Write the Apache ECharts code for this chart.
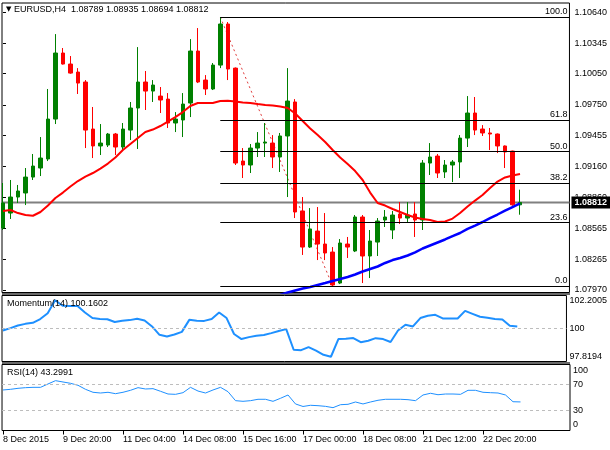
<!DOCTYPE html>
<html><head><meta charset="utf-8">
<script src="https://cdn.jsdelivr.net/npm/echarts@6/dist/echarts.min.js"></script>
<style>html,body{margin:0;padding:0;background:#fff}#c{width:610px;height:450px}</style>
</head><body><div id="c"></div>
<script>
// ---------- DATA ----------
const symbolName = 'EURUSD,H4';
const opens = [1.08566,1.08710,1.08864,1.08903,1.09056,1.09143,1.09230,1.09614,1.10249,1.10143,
1.10066,1.09970,1.09518,1.09355,1.09364,1.09470,1.09345,1.09508,1.09720,1.09970,
1.09883,1.09835,1.09806,1.09576,1.09605,1.09768,1.10268,1.09989,1.09903,1.10133,
1.10528,1.10104,1.09210,1.09172,1.09335,1.09383,1.09383,1.09249,1.09451,1.09778,
1.08730,1.08383,1.08537,1.08412,1.08335,1.08037,1.08412,1.08345,1.08672,1.08297,
1.08431,1.08643,1.08547,1.08701,1.08662,1.08701,1.08643,1.09191,1.09258,1.09105,
1.09172,1.09201,1.09431,1.09672,1.09518,1.09480,1.09470,1.09355,1.09306,1.08789];
const highs = [1.08999,1.09028,1.08980,1.09143,1.09278,1.09441,1.09903,1.10431,1.10297,1.10220,
1.10104,1.09989,1.09730,1.09566,1.09480,1.09480,1.09576,1.09778,1.10306,1.10076,
1.09989,1.09922,1.09864,1.09681,1.09864,1.10383,1.10489,1.10037,1.10153,1.10595,
1.10547,1.10110,1.09335,1.09374,1.09489,1.09576,1.09460,1.09480,1.10104,1.09806,
1.08864,1.08758,1.08768,1.08710,1.08383,1.08460,1.08480,1.08691,1.08691,1.08547,
1.08662,1.08739,1.08730,1.08816,1.08816,1.08816,1.09220,1.09383,1.09278,1.09220,
1.09220,1.09460,1.09835,1.09826,1.09556,1.09528,1.09475,1.09360,1.09310,1.08935];
const lows = [1.08547,1.08653,1.08807,1.08787,1.09028,1.09066,1.09210,1.09566,1.10138,1.10050,
1.09855,1.09335,1.09239,1.09268,1.09345,1.09268,1.09316,1.09412,1.09326,1.09701,
1.09778,1.09672,1.09528,1.09489,1.09441,1.09633,1.09960,1.09845,1.09893,1.10104,
1.09989,1.09172,1.09047,1.09095,1.09249,1.09249,1.09143,1.09105,1.08864,1.08662,
1.08307,1.08374,1.08258,1.08258,1.08008,1.08027,1.08278,1.08335,1.08037,1.08085,
1.08297,1.08576,1.08460,1.08605,1.08624,1.08480,1.08547,1.09076,1.09047,1.09047,
1.09008,1.09047,1.09345,1.09460,1.09451,1.09316,1.09287,1.09143,1.08780,1.08694];
const closes = [1.08807,1.08864,1.08922,1.09056,1.09162,1.09239,1.09614,1.10249,1.10143,1.10056,
1.09960,1.09508,1.09355,1.09383,1.09470,1.09345,1.09518,1.09720,1.09970,1.09883,
1.09941,1.09797,1.09576,1.09614,1.09758,1.10268,1.09970,1.09903,1.10133,1.10528,
1.10095,1.09191,1.09172,1.09335,1.09383,1.09393,1.09249,1.09451,1.09787,1.08720,
1.08383,1.08557,1.08412,1.08326,1.08018,1.08422,1.08383,1.08672,1.08297,1.08441,
1.08633,1.08672,1.08691,1.08662,1.08691,1.08643,1.09191,1.09249,1.09095,1.09172,
1.09201,1.09431,1.09672,1.09508,1.09480,1.09470,1.09355,1.09297,1.08789,1.08812];
const sma20 = [1.08730,1.08739,1.08710,1.08691,1.08684,1.08720,1.08782,1.08855,1.08907,1.08965,
1.09018,1.09061,1.09095,1.09138,1.09186,1.09244,1.09316,1.09374,1.09431,1.09489,
1.09513,1.09547,1.09590,1.09633,1.09681,1.09739,1.09768,1.09768,1.09768,1.09787,
1.09790,1.09782,1.09773,1.09768,1.09758,1.09749,1.09744,1.09734,1.09720,1.09667,
1.09595,1.09523,1.09460,1.09393,1.09316,1.09244,1.09181,1.09114,1.09028,1.08907,
1.08807,1.08782,1.08749,1.08720,1.08691,1.08667,1.08653,1.08643,1.08624,1.08629,
1.08657,1.08710,1.08773,1.08830,1.08883,1.08951,1.09013,1.09052,1.09071,1.09085];
const sma100Start = 35;
const sma100 = [1.07883,1.07903,1.07922,1.07946,1.07965,
1.07984,1.07999,1.08018,1.08037,1.08057,1.08076,1.08095,1.08119,1.08148,1.08172,
1.08196,1.08230,1.08258,1.08278,1.08302,1.08331,1.08369,1.08398,1.08427,1.08456,
1.08489,1.08518,1.08557,1.08590,1.08624,1.08662,1.08696,1.08734,1.08768,1.08802];
const momentum = [99.86,100.04,100.24,100.37,100.45,100.74,101.20,102.2005,101.77,101.76,
101.75,101.25,100.82,100.74,100.73,100.51,100.61,100.66,100.76,100.63,
100.17,99.52,99.39,99.54,99.75,100.68,100.61,100.60,100.74,101.25,
100.82,99.58,99.19,99.34,99.44,99.50,99.65,99.81,99.96,98.36,
98.33,98.57,98.30,97.97,97.8194,99.19,99.21,99.27,98.95,99.06,
99.26,99.19,98.96,99.86,100.30,100.17,100.82,101.00,101.07,100.79,
100.78,100.79,101.38,101.15,100.92,100.84,100.74,100.71,100.22,100.1602];
const rsi = [61.4,62.4,63.9,64.9,65.4,65.4,70.5,75.5,73.5,71.5,
68.5,62.4,57.9,56.8,57.9,55.8,57.9,60.9,64.9,62.9,
63.4,59.4,55.3,54.8,57.3,65.4,59.8,56.8,61.4,65.4,
58.8,45.2,44.2,45.2,47.3,47.3,44.2,48.8,53.8,40.2,
36.4,38.2,37.6,36.6,34.6,39.1,39.7,43.2,40.2,43.2,
45.8,47.3,47.3,47.3,46.7,45.2,53.8,56.4,54.2,55.3,
55.3,54.8,60.9,60.9,57.9,57.3,56.8,53.8,43.6,43.2991];
// Fibonacci retracement (from bar 29 high to bar 44 low)
const fibHighBar = 29, fibLowBar = 44;
const fibHigh = 1.10595, fibLow = 1.08008;
const fibLevels = [0, 23.6, 38.2, 50.0, 61.8, 100.0];
// Axis ticks / labels
const priceTicks = [1.07970,1.08265,1.08565,1.08860,1.09160,1.09455,1.09750,1.10050,1.10345,1.10640];
const momTicks = [97.8194, 100, 102.2005];
const momTickLabels = ['97.8194','100','102.2005'];
const rsiTicks = [0, 30, 70, 100];
const rsiLevels = [70, 30];
const dateTickBars = [0,8,16,24,32,40,48,56,64];
const dateLabels = ['8 Dec 2015','9 Dec 20:00','11 Dec 04:00','14 Dec 08:00','15 Dec 16:00','17 Dec 00:00','18 Dec 08:00','21 Dec 12:00','22 Dec 20:00'];

// ---------- CHART ----------
const FONT = 'Liberation Sans';
const xMin = -0.13, xMax = 75.6;
const yMin = 1.07946, yMax = 1.10730;
const last = closes.length - 1;
const bars = closes.map((_, i) => i);
const candleData = bars.map(i => [i, opens[i], closes[i], lows[i], highs[i]]);

const chart = echarts.init(document.getElementById('c'));
const txt = {fontSize: 9, color: '#000', fontFamily: FONT};
const xBase = {type: 'value', min: xMin, max: xMax, axisLine: {show: false}, axisTick: {show: false}, axisLabel: {show: false}, splitLine: {show: false}};
const gridBase = {left: 2, right: 40, show: true, borderColor: '#000', borderWidth: 1, backgroundColor: '#fff'};

chart.setOption({
  animation: false,
  backgroundColor: '#fff',
  textStyle: {fontFamily: FONT},
  title: [
    {text: '{t|▼} ' + symbolName + '  ' + [opens[last], highs[last], lows[last], closes[last]].map(v => v.toFixed(5)).join(' '),
     left: 6, top: 5, padding: 0,
     textStyle: Object.assign({fontWeight: 'normal', rich: {t: {fontSize: 7, fontFamily: 'DejaVu Sans', color: '#000'}}}, txt)},
    {text: 'Momentum(14) ' + momentum[last].toFixed(4), left: 7, top: 299.5, padding: 0, textStyle: Object.assign({fontWeight: 'normal'}, txt)},
    {text: 'RSI(14) ' + rsi[last].toFixed(4), left: 7, top: 368.5, padding: 0, textStyle: Object.assign({fontWeight: 'normal'}, txt)}
  ],
  grid: [
    Object.assign({top: 3, height: 289.5}, gridBase),
    Object.assign({top: 295.5, height: 66}, gridBase),
    Object.assign({top: 364.5, height: 66}, gridBase)
  ],
  graphic: [
    {type: 'rect', shape: {x: 2, y: 293, width: 568, height: 2}, style: {fill: '#6a6a6a'}, silent: true},
    {type: 'rect', shape: {x: 2, y: 362, width: 568, height: 2}, style: {fill: '#6a6a6a'}, silent: true}
  ],
  xAxis: [
    Object.assign({gridIndex: 0}, xBase),
    Object.assign({gridIndex: 1}, xBase),
    Object.assign({}, xBase, {gridIndex: 2,
      axisTick: {show: true, customValues: dateTickBars, length: 4, lineStyle: {color: '#000'}},
      axisLabel: Object.assign({show: true, customValues: dateTickBars, align: 'left', margin: 5,
        formatter: v => dateLabels[dateTickBars.indexOf(Math.round(v))]}, txt)})
  ],
  yAxis: [
    {type: 'value', gridIndex: 0, position: 'right', min: yMin, max: yMax, splitLine: {show: false}, axisLine: {show: false},
     axisTick: {show: true, customValues: priceTicks, length: 3, lineStyle: {color: '#000'}},
     axisLabel: Object.assign({customValues: priceTicks, margin: 5, formatter: v => v.toFixed(5)}, txt)},
    {type: 'value', gridIndex: 1, position: 'right', min: 97.45, max: 102.57, splitLine: {show: false}, axisLine: {show: false},
     axisTick: {show: false},
     axisLabel: Object.assign({customValues: momTicks, margin: 3, formatter: v => {
       let k = 0; momTicks.forEach((t, j) => { if (Math.abs(t - v) < Math.abs(momTicks[k] - v)) k = j; }); return momTickLabels[k]; }}, txt)},
    {type: 'value', gridIndex: 2, position: 'right', min: 0, max: 100, splitLine: {show: false}, axisLine: {show: false},
     axisTick: {show: false},
     axisLabel: Object.assign({customValues: rsiTicks, margin: 3,
       formatter: v => v >= 100 ? '{top|' + v + '}' : (v <= 0 ? '{bot|' + v + '}' : String(v)),
       rich: {top: {padding: [12, 0, 0, 0], fontSize: 9, fontFamily: FONT, color: '#000'},
              bot: {padding: [0, 0, 12, 0], fontSize: 9, fontFamily: FONT, color: '#000'}}}, txt)}
  ],
  series: [
    {type: 'line', xAxisIndex: 0, yAxisIndex: 0, data: [[xMin, closes[last]], [xMax, closes[last]]], symbol: 'none', silent: true,
     z: 1, lineStyle: {color: '#808080', width: 2},
     endLabel: {show: true, distance: 2, formatter: closes[last].toFixed(5),
       backgroundColor: '#000', color: '#fff', fontWeight: 'bold', fontSize: 9, fontFamily: FONT, padding: [2, 4, 1, 3]}},
    {type: 'candlestick', xAxisIndex: 0, yAxisIndex: 0, data: candleData, barWidth: 4, z: 3,
     itemStyle: {color: '#008000', color0: '#ff0000', borderColor: '#008000', borderColor0: '#ff0000', borderWidth: 1}},
    {type: 'line', xAxisIndex: 0, yAxisIndex: 0, data: bars.map(i => [i, sma20[i]]), symbol: 'none', silent: true, z: 4,
     lineStyle: {color: '#ff0000', width: 2}},
    {type: 'line', xAxisIndex: 0, yAxisIndex: 0, data: sma100.map((v, j) => [sma100Start + j, v]), symbol: 'none', silent: true, z: 4,
     lineStyle: {color: '#0000ff', width: 2.5}},
    {type: 'line', xAxisIndex: 0, yAxisIndex: 0, data: [[fibHighBar, fibHigh], [fibLowBar, fibLow]], symbol: 'none', silent: true, z: 2,
     lineStyle: {color: '#e03c3c', width: 1, type: [2, 3]},
     markLine: {silent: true, symbol: ['none', 'none'], animation: false,
       lineStyle: {color: '#000', width: 1, type: 'solid'},
       label: {show: true, position: 'insideEndTop', distance: [2, 1], formatter: p => p.name,
         color: '#000', fontSize: 9, fontFamily: FONT},
       data: fibLevels.map(p => {
         const v = fibLow + (fibHigh - fibLow) * p / 100;
         return [{name: p.toFixed(1), coord: [fibHighBar, v]}, {name: p.toFixed(1), coord: [xMax, v]}];
       })}},
    {type: 'line', xAxisIndex: 1, yAxisIndex: 1, data: bars.map(i => [i, momentum[i]]), symbol: 'none', silent: true,
     lineStyle: {color: '#1e90ff', width: 2},
     markLine: {silent: true, symbol: ['none', 'none'], animation: false, label: {show: false},
       lineStyle: {color: '#bdbdbd', width: 1, type: [3, 3]}, data: [{yAxis: 100}]}},
    {type: 'line', xAxisIndex: 2, yAxisIndex: 2, data: bars.map(i => [i, rsi[i]]), symbol: 'none', silent: true,
     lineStyle: {color: '#1e90ff', width: 1},
     markLine: {silent: true, symbol: ['none', 'none'], animation: false, label: {show: false},
       lineStyle: {color: '#bdbdbd', width: 1, type: [3, 3]}, data: rsiLevels.map(v => ({yAxis: v}))}}
  ]
});
</script>
</body></html>
